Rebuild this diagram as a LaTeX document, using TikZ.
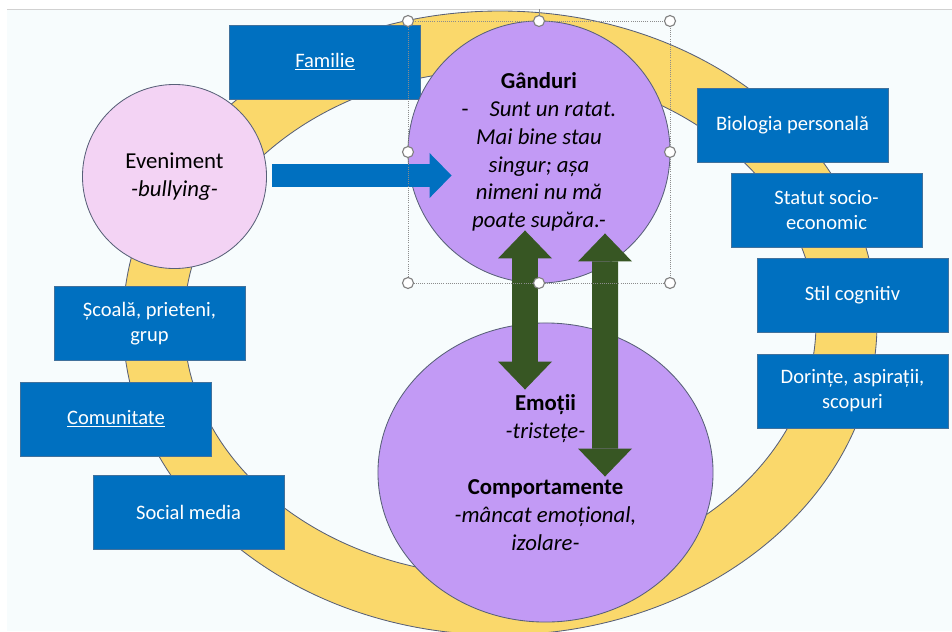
\documentclass[tikz,border=0pt]{standalone}
\usepackage{fontspec}
\setmainfont{Carlito}
\definecolor{BoxBlue}{RGB}{0,112,192}
\definecolor{BoxEdge}{RGB}{65,113,156}
\definecolor{RingGold}{RGB}{250,216,107}
\definecolor{EdgeGrey}{RGB}{88,96,120}
\definecolor{EventPink}{RGB}{243,211,244}
\definecolor{MindPurple}{RGB}{194,154,245}
\definecolor{DarkGreen}{RGB}{55,86,35}
\definecolor{SlideBg}{RGB}{247,252,253}
\usetikzlibrary{arrows.meta, positioning, shapes.geometric, calc}

\begin{document}
\begin{tikzpicture}[x=0.025cm, y=-0.025cm, line width=0.6pt, bx/.style={draw=BoxEdge, fill=BoxBlue, text=white, minimum width=4.775cm, minimum height=1.85cm, align=center, inner sep=2pt, font=\fontsize{14.6}{17.7}\selectfont}, crc/.style={draw=EdgeGrey, align=center, inner sep=0pt, font=\fontsize{16.2}{19.8}\selectfont}, ar/.style={BoxBlue, line width=0.575cm, -{Triangle[length=0.55cm, width=1.125cm, line width=0pt]}}, gar/.style={DarkGreen, line width=0.65cm, {Triangle[length=0.7cm, width=1.35cm, line width=0pt]}-{Triangle[length=0.7cm, width=1.35cm, line width=0pt]}}]
\useasboundingbox (0,0) rectangle (952,631);
\fill[white] (0,0) rectangle (952,631);
\fill[SlideBg] (7,10) rectangle (952,631);
\draw[black!18, line width=1pt] (7,9.5) -- (952,9.5);
% ring behind everything
\filldraw[fill=RingGold, draw=EdgeGrey, even odd rule] (500,323) ellipse [x radius=377, y radius=312] (500,323) ellipse [x radius=316, y radius=253];
% influences
\node[bx] (fam) at (325,62) {\underline{Familie}};
\node[bx] (bio) at (792.5,125) {Biologia personală};
\node[bx] (soc) at (826.5,210) {Statut socio-\\economic};
\node[bx] (stil) at (852.5,295.5) {Stil cognitiv};
\node[bx] (dor) at (852.5,391) {Dorințe, aspirații,\\scopuri};
\node[bx] (scoala) at (149.5,323.5) {Școală, prieteni,\\grup};
\node[bx] (com) at (116,419) {\underline{Comunitate}};
\node[bx] (media) at (188.5,512) {Social media};
% cycle
\node[crc, circle, fill=EventPink, minimum size=4.6cm] (ev) at (174.5,176.5) {Eveniment\\\textit{-bullying-}};
\node[crc, circle, fill=MindPurple, minimum size=6.55cm] (gd) at (539,152) {\textbf{Gânduri}\\-\hspace{15pt}\textit{Sunt un ratat.}\\\textit{Mai bine stau}\\\textit{singur; așa}\\\textit{nimeni nu mă}\\\textit{poate supăra.-}};
\node[crc, ellipse, fill=MindPurple, minimum width=8.375cm, minimum height=7.475cm] (emo) at (545.5,472.5) {\textbf{Emoții}\\\textit{-tristețe-}\\[19.8pt]\textbf{Comportamente}\\\textit{-mâncat emoțional,}\\\textit{izolare-}};
\draw[ar] ($(ev.east)+(5.5,-1)$) -- ($(gd.west)+(44,23.5)$);
\draw[gar] ($(gd.south)+(-14,-53)$) -- ($(emo.north)+(-20.5,67)$);
\draw[gar] ($(gd.south)+(66,-50)$) -- ($(emo.north)+(59.5,154)$);
% selection frame
\draw[black!45, densely dotted, line width=0.5pt] (408,21) rectangle (670,283);
\draw[black!45] (539,9) -- (539,16);
\foreach \p in {(408,21),(539,21),(670,21),(408,152),(670,152),(408,283),(539,283),(670,283)}
  \filldraw[fill=white, draw=black!50, line width=0.8pt] \p circle (5.5);
\end{tikzpicture}
\end{document}
